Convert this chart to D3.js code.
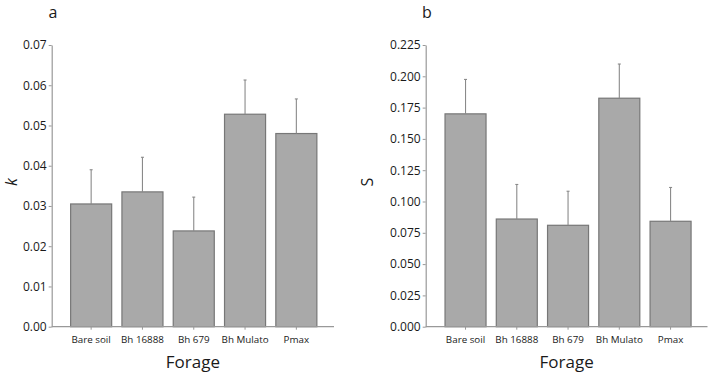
<!DOCTYPE html>
<html>
<head>
<meta charset="utf-8">
<script src="https://cdn.jsdelivr.net/npm/d3@7"></script>
<style>
  body { margin: 0; background: #fff; }
  text { font-family: "Open Sans", "Noto Sans", sans-serif; fill: #1a1a1a; }
</style>
</head>
<body>
<svg id="chart" width="711" height="373"></svg>
<script>
// data
const categories = ['Bare soil', 'Bh 16888', 'Bh 679', 'Bh Mulato', 'Pmax'];
const kMean = [0.0305, 0.0335, 0.0238, 0.0528, 0.0480];
const kUpper = [0.0390, 0.0421, 0.0322, 0.0613, 0.0566];
const sMean = [0.170, 0.086, 0.081, 0.1825, 0.0842];
const sUpper = [0.1975, 0.1136, 0.1082, 0.2098, 0.1112];
const kTicks = [0, 0.01, 0.02, 0.03, 0.04, 0.05, 0.06, 0.07];
const sTicks = [0, 0.025, 0.05, 0.075, 0.1, 0.125, 0.15, 0.175, 0.2, 0.225];

const svg = d3.select('#chart');
const yTop = 45, yBottom = 326.7;

function panel(opts) {
  const g = svg.append('g');
  const y = d3.scaleLinear().domain([0, opts.ticks[opts.ticks.length - 1]]).range([yBottom, yTop]);
  const x = d3.scaleBand().domain(categories).range(opts.band).paddingInner(0.2).paddingOuter(0.1);

  // bars
  g.selectAll('rect.bar').data(opts.mean).enter().append('rect')
    .attr('x', (d, i) => x(categories[i]))
    .attr('y', d => y(d))
    .attr('width', x.bandwidth())
    .attr('height', d => y(0) - y(d))
    .attr('fill', '#a9a9a9')
    .attr('stroke', '#777')
    .attr('stroke-width', 1.2);

  // error bars (upper only)
  const eb = g.selectAll('g.err').data(opts.upper).enter().append('g')
    .attr('stroke', '#8a8a8a').attr('stroke-width', 1.1);
  eb.append('line')
    .attr('x1', (d, i) => x(categories[i]) + x.bandwidth() / 2)
    .attr('x2', (d, i) => x(categories[i]) + x.bandwidth() / 2)
    .attr('y1', (d, i) => y(opts.mean[i]))
    .attr('y2', d => y(d));
  eb.append('line')
    .attr('x1', (d, i) => x(categories[i]) + x.bandwidth() / 2 - 1.5)
    .attr('x2', (d, i) => x(categories[i]) + x.bandwidth() / 2 + 1.5)
    .attr('y1', d => y(d))
    .attr('y2', d => y(d));

  // y axis
  const yAxis = d3.axisLeft(y).tickValues(opts.ticks).tickFormat(d3.format(opts.fmt))
    .tickSize(3).tickSizeOuter(0).tickPadding(2);
  const ya = g.append('g').attr('transform', `translate(${opts.axisX},0)`).call(yAxis);
  ya.select('.domain').attr('stroke', '#999').attr('stroke-width', 1.2);
  ya.selectAll('.tick line').attr('stroke', '#999');
  ya.selectAll('.tick text').style('font-size', '12px').attr('fill', '#1a1a1a');

  // x axis
  const xa = g.append('g').attr('transform', `translate(0,${yBottom})`)
    .call(d3.axisBottom(x).tickSize(3).tickSizeOuter(0).tickPadding(6));
  xa.select('.domain').remove();
  xa.append('line').attr('x1', opts.axisX).attr('x2', opts.axisEnd)
    .attr('stroke', '#999').attr('stroke-width', 1.2);
  xa.selectAll('.tick line').attr('stroke', '#999');
  xa.selectAll('.tick text').style('font-size', '9.8px').attr('fill', '#1a1a1a');

  // titles
  g.append('text').attr('x', (opts.axisX + opts.axisEnd) / 2).attr('y', 368)
    .attr('text-anchor', 'middle').style('font-size', '17px').text('Forage');
  g.append('text')
    .attr('transform', `translate(${opts.labelX},182) rotate(-90)`)
    .attr('text-anchor', 'middle')
    .style('font-size', '16px')
    .style('font-style', opts.italic ? 'italic' : 'normal')
    .text(opts.ylabel);
  g.append('text').attr('x', opts.letterX).attr('y', 18)
    .attr('text-anchor', 'middle').style('font-size', '16px').text(opts.letter);
}

panel({ mean: kMean, upper: kUpper, ticks: kTicks, fmt: '.2f', band: [65.5, 322],
  axisX: 51.7, axisEnd: 334, labelX: 17, ylabel: 'k', italic: true, letter: 'a', letterX: 53 });
panel({ mean: sMean, upper: sUpper, ticks: sTicks, fmt: '.3f', band: [439.9, 696.2],
  axisX: 425.7, axisEnd: 707.5, labelX: 373, ylabel: 'S', italic: false, letter: 'b', letterX: 427 });
</script>
</body>
</html>
